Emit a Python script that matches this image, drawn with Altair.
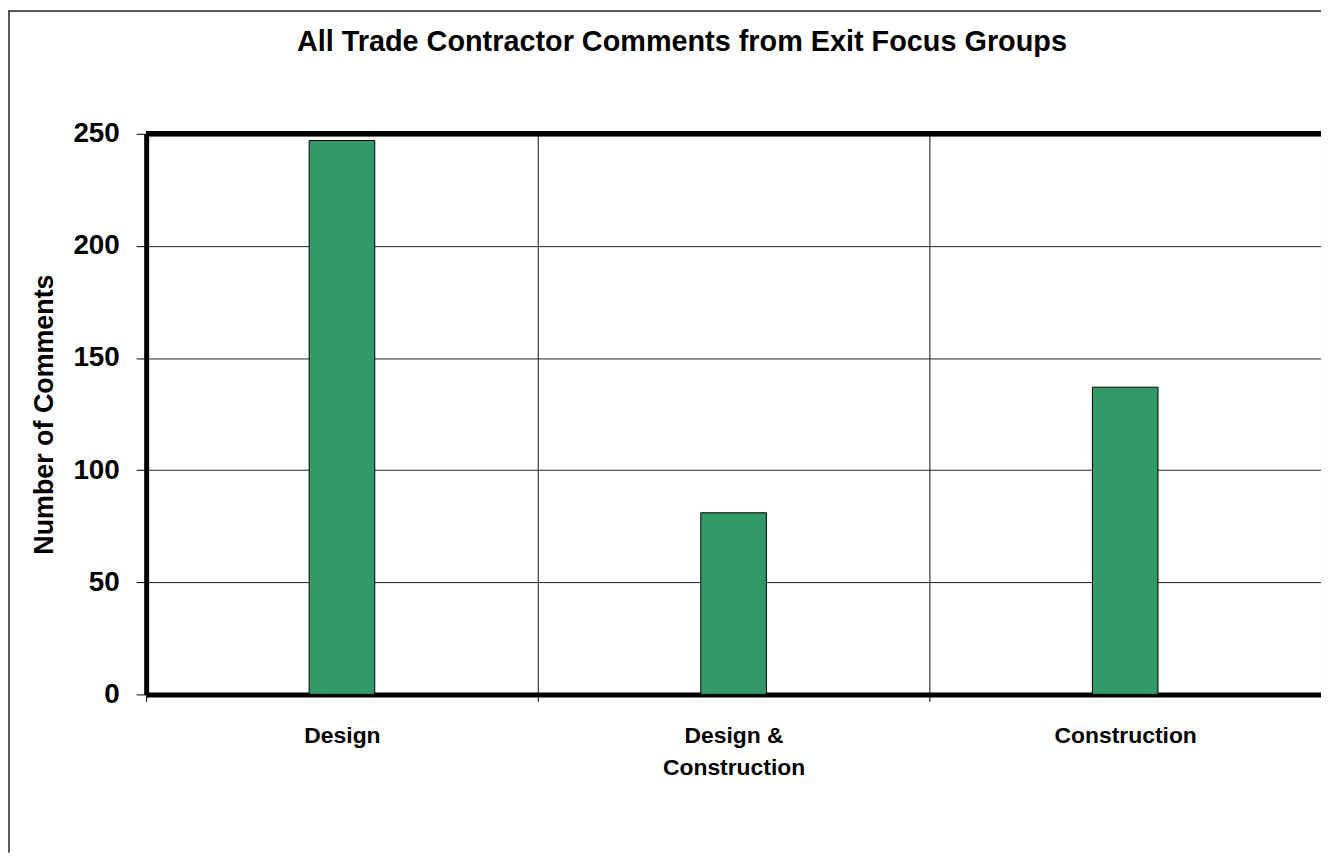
import altair as alt
import pandas as pd

categories = ["Design", "Design & Construction", "Construction"]
comments = [247, 81, 137]
y_ticks = [0, 50, 100, 150, 200, 250]
title_text = "All Trade Contractor Comments from Exit Focus Groups"
y_title = "Number of Comments"

df = pd.DataFrame({"category": categories, "comments": comments})
title_df = pd.DataFrame({"t": [title_text]})

FONT = "Liberation Sans"
PLOT_W, PLOT_H = 1182, 564

yscale = alt.Scale(domain=[0, 250], nice=False, zero=True)

bars = alt.Chart(df).mark_bar(
    color="#339966", stroke="#000000", strokeWidth=1,
    width=alt.RelativeBandSize(0.1675)
).encode(
    x=alt.X("category:N", sort=categories, title=None,
            scale=alt.Scale(paddingInner=0, paddingOuter=0),
            axis=alt.Axis(labelAngle=0, tickBand="extent", grid=True,
                          gridColor="#111111", gridWidth=1,
                          domainColor="#000000", domainWidth=5,
                          tickColor="#000000", tickSize=7, tickWidth=1,
                          labelFont=FONT, labelFontWeight="bold", labelFontSize=23,
                          labelColor="#000000", labelPadding=23, labelLineHeight=33,
                          labelBaseline="top",
                          labelExpr="datum.label == 'Design & Construction' ? ['Design &', 'Construction'] : datum.label")),
    y=alt.Y("comments:Q", scale=yscale, title=y_title,
            axis=alt.Axis(values=y_ticks, grid=True, gridColor="#222222", gridWidth=1,
                          domainColor="#000000", domainWidth=5,
                          tickColor="#000000", tickSize=10, tickWidth=1,
                          labelFont=FONT, labelFontWeight="bold", labelFontSize=28,
                          labelColor="#000000", labelPadding=17,
                          titleFont=FONT, titleFontWeight="bold", titleFontSize=27,
                          titleColor="#000000", titlePadding=15))
)

top_line = alt.Chart(df).mark_rule(color="#000000", strokeWidth=5).encode(
    y=alt.datum(250)
)

frame_left = alt.Chart(df).mark_rule(color="#444444", strokeWidth=1, clip=False).encode(
    x=alt.value(-138), y=alt.value(-123.5), y2=alt.value(PLOT_H + 159)
)
frame_top = alt.Chart(df).mark_rule(color="#444444", strokeWidth=1, clip=False).encode(
    x=alt.value(-139), x2=alt.value(PLOT_W), y=alt.value(-123.5)
)

title = alt.Chart(title_df).mark_text(
    font=FONT, fontSize=29, fontWeight="bold", color="#000000",
    align="center", baseline="alphabetic", clip=False
).encode(text="t:N", x=alt.value(539), y=alt.value(-83))

chart = alt.layer(bars, top_line, frame_left, frame_top, title).properties(
    width=PLOT_W, height=PLOT_H,
    autosize=alt.AutoSizeParams(type="none"),
    padding={"left": 139, "top": 124, "right": 0, "bottom": 159}
).configure_view(stroke=None).configure(background="white")

chart.save("out.html", embed_options={"renderer": "svg", "actions": False})
